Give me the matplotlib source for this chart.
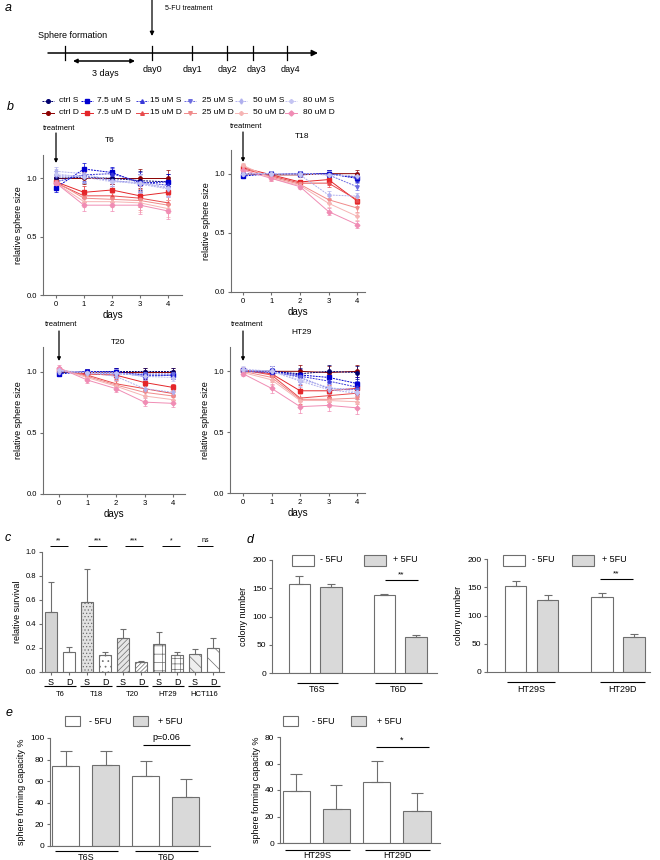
import matplotlib
matplotlib.use("Agg")
import matplotlib.pyplot as plt
from matplotlib.patches import Rectangle
import numpy as np

plt.rcParams['font.family'] = ['Liberation Sans', 'DejaVu Sans']
plt.rcParams['hatch.color'] = '#707070'
plt.rcParams['hatch.linewidth'] = 0.5

W, H = 660, 860
GREY = '#6e6e6e'
LIGHT = '#d9d9d9'

# ---- panel b: relative sphere size over days ----
DAYS = [0, 1, 2, 3, 4]
DOSES = ['ctrl', '7.5 uM', '15 uM', '25 uM', '50 uM', '80 uM']

T6_S = [[1.00, 1.01, 1.00, 0.98, 0.97],
        [0.92, 1.08, 1.05, 0.96, 0.97],
        [0.97, 1.03, 1.04, 0.97, 0.94],
        [1.02, 1.02, 0.98, 0.96, 0.92],
        [1.06, 1.04, 0.98, 0.95, 0.91],
        [1.04, 1.01, 0.97, 0.96, 0.92]]
T6_D = [[1.00, 1.00, 1.00, 1.00, 1.00],
        [0.97, 0.88, 0.90, 0.85, 0.88],
        [0.96, 0.85, 0.85, 0.83, 0.79],
        [0.97, 0.83, 0.82, 0.81, 0.77],
        [0.96, 0.80, 0.80, 0.79, 0.74],
        [0.96, 0.77, 0.77, 0.77, 0.72]]
T6_ERR = [0.04, 0.05, 0.05, 0.08, 0.07]

T18_S = [[1.00, 1.00, 1.00, 1.00, 0.97],
         [0.98, 1.00, 1.00, 1.00, 0.96],
         [1.00, 1.00, 1.00, 1.00, 0.97],
         [1.00, 1.00, 1.00, 0.99, 0.89],
         [1.00, 1.00, 0.99, 0.82, 0.81],
         [1.00, 1.00, 1.00, 0.99, 0.98]]
T18_D = [[1.00, 0.99, 0.99, 1.00, 1.00],
         [1.05, 0.99, 0.93, 0.95, 0.77],
         [1.04, 0.98, 0.92, 0.92, 0.78],
         [1.06, 0.97, 0.91, 0.78, 0.71],
         [1.07, 0.96, 0.90, 0.75, 0.64],
         [1.03, 0.96, 0.89, 0.68, 0.57]]
T18_ERR = [0.02, 0.02, 0.02, 0.03, 0.03]

T20_S = [[0.99, 1.00, 1.00, 1.00, 1.00],
         [0.98, 1.00, 1.00, 0.97, 0.97],
         [1.00, 1.00, 0.99, 0.96, 0.97],
         [1.00, 0.99, 0.98, 0.98, 0.98],
         [1.00, 0.99, 0.96, 0.86, 0.83],
         [1.01, 0.99, 0.99, 0.96, 0.95]]
T20_D = [[1.00, 1.00, 1.00, 1.00, 1.00],
         [1.01, 0.98, 0.97, 0.91, 0.87],
         [1.01, 0.97, 0.90, 0.86, 0.82],
         [1.02, 0.96, 0.89, 0.83, 0.80],
         [1.02, 0.95, 0.88, 0.80, 0.77],
         [1.03, 0.93, 0.86, 0.75, 0.74]]
T20_ERR = [0.02, 0.02, 0.03, 0.03, 0.03]

HT29_S = [[1.00, 1.00, 0.98, 1.00, 0.99],
          [1.01, 1.00, 0.97, 0.95, 0.90],
          [1.00, 0.99, 0.96, 0.92, 0.87],
          [1.00, 1.00, 0.95, 0.86, 0.85],
          [1.01, 1.00, 0.92, 0.85, 0.82],
          [1.02, 1.00, 0.93, 0.87, 0.83]]
HT29_D = [[1.00, 1.00, 1.00, 0.99, 1.00],
          [1.01, 0.98, 0.84, 0.84, 0.86],
          [1.01, 0.97, 0.78, 0.80, 0.82],
          [1.00, 0.95, 0.77, 0.77, 0.78],
          [0.99, 0.93, 0.76, 0.76, 0.75],
          [0.98, 0.86, 0.71, 0.72, 0.70]]
HT29_ERR = [0.02, 0.04, 0.05, 0.05, 0.05]

S_COLORS = ['#00006e', '#0000d0', '#3838d8', '#6c6ce0', '#b0b0ee', '#c4c4f2']
D_COLORS = ['#8b0000', '#e4262a', '#e84a4c', '#f08a8a', '#f6b4b4', '#f08cb4']
S_MARKERS = ['o', 's', '^', 'v', 'd', 'P']
D_MARKERS = ['o', 's', '^', 'v', 'P', 'D']

# ---- panel c: relative survival ----
C_LINES = ['T6', 'T18', 'T20', 'HT29', 'HCT116']
C_TICKS = ['S', 'D'] * 5
C_VALS = [0.50, 0.17, 0.58, 0.14, 0.28, 0.08, 0.23, 0.14, 0.15, 0.20]
C_ERR = [0.25, 0.04, 0.28, 0.03, 0.08, 0.01, 0.10, 0.03, 0.04, 0.08]
C_SIG = ['**', '***', '***', '*', 'ns']

# ---- panel d: colony number ----
D_LEFT_GROUPS = ['T6S', 'T6D']
D_LEFT_VALS = [157, 153, 138, 63]
D_LEFT_ERR = [15, 5, 2, 5]
D_RIGHT_GROUPS = ['HT29S', 'HT29D']
D_RIGHT_VALS = [153, 128, 133, 62]
D_RIGHT_ERR = [8, 8, 7, 5]

# ---- panel e: sphere forming capacity ----
E_LEFT_VALS = [74, 75, 65, 45]
E_LEFT_ERR = [14, 13, 14, 17]
E_RIGHT_VALS = [39, 26, 46, 24]
E_RIGHT_ERR = [13, 18, 16, 14]

fig = plt.figure(figsize=(6.6, 8.6), dpi=100)


def px_axes(x0, y0, x1, y1):
    return fig.add_axes([x0 / W, 1 - y1 / H, (x1 - x0) / W, (y1 - y0) / H])


def prism(ax, fs=5.5):
    for s in ('top', 'right'):
        ax.spines[s].set_visible(False)
    for s in ('left', 'bottom'):
        ax.spines[s].set_color(GREY)
        ax.spines[s].set_linewidth(0.8)
    ax.tick_params(direction='out', length=2.5, width=0.8, color=GREY,
                   labelsize=fs, pad=1.5)
    ax.patch.set_visible(False)


# panel b line plots
b_panels = [
    (T6_S, T6_D, T6_ERR, (43, 155, 182, 295), (-0.46, 4.5)),
    (T18_S, T18_D, T18_ERR, (231, 150, 365, 292), (-0.42, 4.28)),
    (T20_S, T20_D, T20_ERR, (43, 347, 185, 494), (-0.56, 4.42)),
    (HT29_S, HT29_D, HT29_ERR, (230, 347, 365, 493), (-0.46, 4.28)),
]
for s_vals, d_vals, err, box, xl in b_panels:
    ax = px_axes(*box)
    for i in range(6):
        ax.errorbar(DAYS, d_vals[i], yerr=err, color=D_COLORS[i], marker=D_MARKERS[i],
                    ms=2.4, lw=0.7, elinewidth=0.5, capsize=1.2, capthick=0.5)
        ax.errorbar(DAYS, s_vals[i], yerr=err, color=S_COLORS[i], marker=S_MARKERS[i],
                    ms=2.4, lw=0.7, ls=(0, (2, 1)), elinewidth=0.5, capsize=1.2,
                    capthick=0.5)
    ax.set_xlim(*xl)
    ax.set_ylim(0, 1.2)
    ax.set_xticks(DAYS)
    ax.set_yticks([0, 0.5, 1.0])
    ax.set_yticklabels(['0.0', '0.5', '1.0'])
    ax.set_xlabel('days', fontsize=7, labelpad=2)
    ax.set_ylabel('relative sphere size', fontsize=6.5, labelpad=3)
    prism(ax)

# panel c bars
c_fill = ['#d4d4d4', 'white', '#e2e2e2', 'white', '#e6e6e6', 'white',
          'white', 'white', '#eeeeee', 'white']
c_hatch = [None, None, '.....', '...', '//////', '////////', '++', '+++',
           '\\\\\\', '\\\\']
ax = px_axes(42, 552, 224, 672)
pos = np.arange(10)
for i in range(10):
    ax.bar(pos[i], C_VALS[i], 0.72, color=c_fill[i], edgecolor=GREY, lw=0.8,
           hatch=c_hatch[i], yerr=[[0], [C_ERR[i]]],
           error_kw=dict(ecolor=GREY, elinewidth=0.8, capsize=2.2, capthick=0.8))
ax.set_xlim(-0.5, 9.61)
ax.set_ylim(0, 1.0)
ax.set_yticks([0, 0.2, 0.4, 0.6, 0.8, 1.0])
ax.set_yticklabels(['0.0', '0.2', '0.4', '0.6', '0.8', '1.0'])
ax.set_xticks(pos)
ax.set_xticklabels(C_TICKS)
ax.set_ylabel('relative survival', fontsize=6.5, labelpad=3)
prism(ax)
ax.tick_params(axis='x', labelsize=6.5)

# panel d bars
d_fill = ['white', LIGHT, 'white', LIGHT]
d_pos = [0, 1, 2.7, 3.7]
for vals, errs, box, xl in [
    (D_LEFT_VALS, D_LEFT_ERR, (272, 560, 437, 673), (-0.873, 4.37)),
    (D_RIGHT_VALS, D_RIGHT_ERR, (487, 559, 650, 672), (-0.89, 4.2)),
]:
    ax = px_axes(*box)
    ax.bar(d_pos, vals, 0.68, color=d_fill, edgecolor=GREY, lw=0.8,
           yerr=[[0] * 4, errs],
           error_kw=dict(ecolor=GREY, elinewidth=0.8, capsize=3, capthick=0.8))
    ax.set_xlim(*xl)
    ax.set_ylim(0, 200)
    ax.set_yticks([0, 50, 100, 150, 200])
    ax.set_xticks([])
    ax.set_ylabel('colony number', fontsize=6.5, labelpad=3)
    prism(ax, fs=6)

# panel e bars
for vals, errs, box, xl, top, step in [
    (E_LEFT_VALS, E_LEFT_ERR, (50, 738, 210, 846), (-0.39, 3.61), 100, 20),
    (E_RIGHT_VALS, E_RIGHT_ERR, (280, 737, 440, 843), (-0.4, 3.57), 80, 20),
]:
    ax = px_axes(*box)
    ax.bar(range(4), vals, 0.675, color=d_fill, edgecolor=GREY, lw=0.8,
           yerr=[[0] * 4, errs],
           error_kw=dict(ecolor=GREY, elinewidth=0.8, capsize=4.5, capthick=0.8))
    ax.set_xlim(*xl)
    ax.set_ylim(0, top)
    ax.set_yticks(range(0, top + 1, step))
    ax.set_xticks([])
    ax.set_ylabel('sphere forming capacity %', fontsize=6.5, labelpad=3)
    prism(ax, fs=6)

# ---- overlay for annotations ----
ov = fig.add_axes([0, 0, 1, 1])
ov.set_xlim(0, W)
ov.set_ylim(H, 0)
ov.axis('off')
ov.patch.set_visible(False)


def txt(x, y, s, fs=6, ha='center', **kw):
    ov.text(x, y, s, fontsize=fs, ha=ha, va='center', **kw)


def hline(x0, x1, y, lw=0.8, color='black'):
    ov.plot([x0, x1], [y, y], color=color, lw=lw, solid_capstyle='butt')


def arrow(x0, y0, x1, y1, style='-|>', lw=0.9, ms=6):
    ov.annotate('', xy=(x1, y1), xytext=(x0, y0),
                arrowprops=dict(arrowstyle=style, color='black', lw=lw,
                                mutation_scale=ms, shrinkA=0, shrinkB=0))


# panel labels
for lab, x, y in [('a', 8, 8), ('b', 10, 107), ('c', 8, 538), ('d', 250, 540), ('e', 9, 713)]:
    txt(x, y, lab, fs=9, style='italic')

# panel a timeline
arrow(48, 53, 318, 53, lw=1.1, ms=9)
for x in [65, 152, 192, 227, 253, 287]:
    ov.plot([x, x], [46, 60], color='black', lw=0.9)
for x, lab in [(152, 'day0'), (192, 'day1'), (227, 'day2'), (256, 'day3'), (290, 'day4')]:
    txt(x, 69, lab, fs=6.5)
txt(38, 36, 'Sphere formation', fs=6.5, ha='left')
arrow(73, 61, 135, 61, style='<|-|>', lw=1.1, ms=6)
txt(105, 74, '3 days', fs=6.5)
arrow(152, 0, 152, 36, lw=0.9, ms=6)
txt(165, 9, '5-FU treatment', fs=5, ha='left')

# panel b legend
leg_mx = [48, 87, 142, 190, 241, 291]
leg_tx = [59, 97, 150, 202, 253, 303]
for i in range(6):
    for row, (cols, mks, ls, suf) in enumerate([(S_COLORS, S_MARKERS, (0, (2, 1)), 'S'),
                                                 (D_COLORS, D_MARKERS, '-', 'D')]):
        y = 101 + 12 * row
        ov.plot([leg_mx[i] - 6, leg_mx[i] + 6], [y, y], color=cols[i], lw=0.7, ls=ls)
        ov.plot([leg_mx[i]], [y], color=cols[i], marker=mks[i], ms=2.6)
        txt(leg_tx[i], y, f'{DOSES[i]} {suf}', fs=6, ha='left')

# panel b treatment arrows and titles
for tx, ty, ax_x, y0, y1, title, tlx, tly in [
    (59, 128, 56, 133, 163, 'T6', 110, 140),
    (246, 127, 243, 132, 162, 'T18', 302, 137),
    (61, 325, 59, 331, 361, 'T20', 118, 342),
    (247, 325, 243, 331, 361, 'HT29', 302, 333),
]:
    txt(tx, ty, 'treatment', fs=5.5)
    arrow(ax_x, y0, ax_x, y1, lw=0.9, ms=5)
    txt(tlx, tly, title, fs=6)

# panel c significance and group names
c_sig_x = [(50, 68), (88, 107), (125, 143), (162, 180), (197, 213)]
for (x0, x1), s in zip(c_sig_x, C_SIG):
    hline(x0, x1, 546, lw=0.7)
    txt((x0 + x1) / 2, 541, s, fs=5)
for i, name in enumerate(C_LINES):
    cs = 51 + 36 * i
    hline(cs - 7, cs + 25, 686, lw=0.8)
    txt(cs + 9, 694, name, fs=5.5)

# panel d legends, significance, groups
for bx, tx_, gbx, gtx in [(292, 320, 364, 393), (503, 532, 572, 602)]:
    ov.add_patch(Rectangle((bx, 555), 22, 11, facecolor='white', edgecolor=GREY, lw=0.8))
    txt(tx_, 560, '- 5FU', fs=6.5, ha='left')
    ov.add_patch(Rectangle((gbx, 555), 22, 11, facecolor=LIGHT, edgecolor=GREY, lw=0.8))
    txt(gtx, 560, '+ 5FU', fs=6.5, ha='left')
hline(385, 418, 580)
txt(401, 575, '**', fs=6)
hline(600, 633, 579)
txt(616, 574, '**', fs=6)
for (x0, x1), name in zip([(297, 338), (375, 422)], D_LEFT_GROUPS):
    hline(x0, x1, 683)
    txt((x0 + x1) / 2, 690, name, fs=6.5)
for (x0, x1), name in zip([(507, 555), (600, 645)], D_RIGHT_GROUPS):
    hline(x0, x1, 682)
    txt((x0 + x1) / 2, 689, name, fs=6.5)

# panel e legends, significance, groups
for bx, tx_, gbx, gtx in [(65, 89, 133, 158), (283, 312, 351, 377)]:
    ov.add_patch(Rectangle((bx, 716), 15, 10, facecolor='white', edgecolor=GREY, lw=0.8))
    txt(tx_, 721, '- 5FU', fs=6.5, ha='left')
    ov.add_patch(Rectangle((gbx, 716), 15, 10, facecolor=LIGHT, edgecolor=GREY, lw=0.8))
    txt(gtx, 721, '+ 5FU', fs=6.5, ha='left')
hline(143, 190, 745)
txt(166, 738, 'p=0.06', fs=6.5)
hline(376, 429, 747)
txt(402, 740, '*', fs=6.5)
for (x0, x1), name in zip([(55, 118), (135, 198)], D_LEFT_GROUPS):
    hline(x0, x1, 851)
    txt((x0 + x1) / 2, 857, name, fs=6.5)
for (x0, x1), name in zip([(285, 350), (365, 430)], D_RIGHT_GROUPS):
    hline(x0, x1, 850)
    txt((x0 + x1) / 2, 856, name, fs=6.5)

fig.savefig('out.png', dpi=100)
